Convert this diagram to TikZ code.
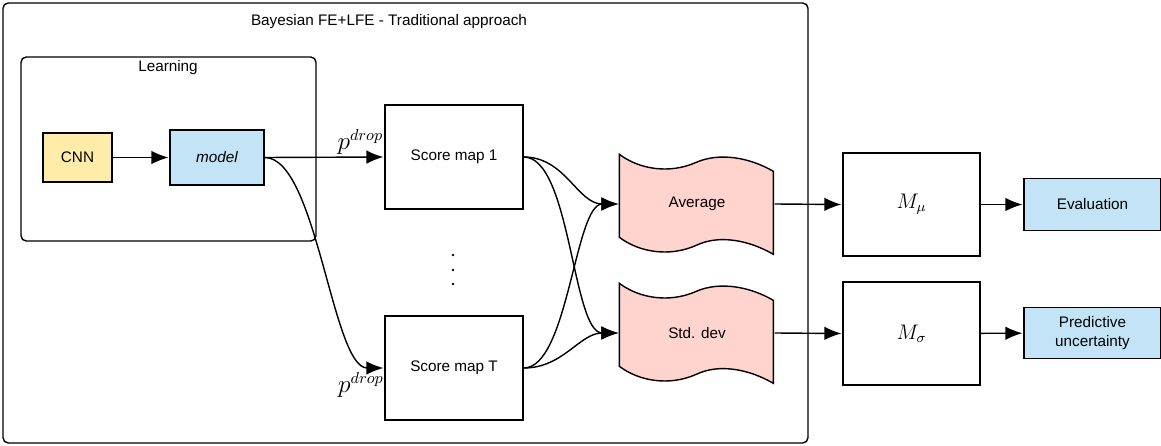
\documentclass[tikz,border=0pt]{standalone}
\usepackage{fontspec}
\setmainfont{Liberation Sans}
\usepackage{amsmath}
\usetikzlibrary{arrows.meta, positioning, backgrounds}
\definecolor{myyellow}{HTML}{FFECA8}
\definecolor{myblue}{HTML}{C2E4F6}
\definecolor{mypink}{HTML}{FFD4CE}
\tikzset{
  >=latex,  % frecce di default
  % Blocchi
  box/.style={thick,rectangle,draw=black,inner sep=1,align=center,font=\fontsize{8.7}{10.5}\selectfont},
  box cnn/.style={box,fill=myyellow,minimum width=1.38cm,minimum height=0.98cm},
  box model/.style={box,fill=myblue,minimum width=1.88cm,minimum height=1.10cm,font=\fontsize{8.7}{10.5}\selectfont\itshape},
  box score/.style={box,minimum width=2.76cm,minimum height=2.08cm},
  box wave/.style={box,draw=none,minimum width=3.08cm,minimum height=2.04cm},
  box map/.style={box,minimum width=2.74cm,minimum height=2.06cm,font=\fontsize{11.5}{13}\selectfont},
  box out/.style={box,fill=myblue,minimum width=2.74cm,minimum height=1.03cm},
  group/.style={thick,draw=black,rounded corners=3pt},
  tape/.style={thick,draw=black,fill=mypink},
  title/.style={font=\fontsize{8.7}{10.5}\selectfont},
  % Connessioni
  connect arrow/.style={-{Latex[length=0.34cm,width=0.27cm]},thick,shorten >=0.5},
  drop/.style={font=\fontsize{13.5}{15}\selectfont,inner sep=1}
}
\begin{document}
\begin{tikzpicture}[x=0.02cm,y=-0.02cm]
  \useasboundingbox (0,0) rectangle (1161,446);
  % Contenitori
  \draw[group] (3,3) rectangle (808,443);
  \node[title] (ttl) at (389,22) {Bayesian FE+LFE - Traditional approach};
  \draw[group] (21,57) rectangle (316,241);
  \node[title] (lrn) at (168,68) {Learning};

  \node[box cnn] (cnn) at (77.5,157.5) {CNN};
  \node[box model] (model) at (217,157.5) {model};
  \node[box score] (sm1) at (454,157) {Score map 1};
  \node[box score] (smT) at (454,368) {Score map T};
  \foreach \y in {255,270,284}
    \fill (453,\y) circle (1.3);
  \node[box wave] (avg) at (697,204) {Average};
  \node[box wave] (std) at (697,333) {Std. dev};
  \node[box map] (mmu) at (911.5,204.5) {$M_\mu$};
  \node[box map] (msig) at (911.5,333.5) {$M_\sigma$};
  \node[box out] (eval) at (1092.5,204.5) {Evaluation};
  \node[box out] (pred) at (1092.5,333) {Predictive\\uncertainty};

  % Forme ondulate
  \begin{scope}[on background layer]
    \foreach \n in {avg,std}
      \draw[tape,shift={(\n.north west)}] (0,2) .. controls (20,17) and (50,22) .. (77,10)
        .. controls (100,0) and (130,5) .. (154,19) -- (154,102)
        .. controls (130,88) and (100,82) .. (77,93)
        .. controls (50,105) and (20,100) .. (0,85) -- cycle;
  \end{scope}

  \draw[connect arrow] (cnn) -- (model);
  \draw[connect arrow] (model.east) -- node[drop,above,pos=0.8] (pd1) {$p^{drop}$} (sm1.west);
  \draw[connect arrow] (model.east) to[out=0,in=180,looseness=0.55] (smT.west);
  \node[drop] (pdT) at (361,385) {$p^{drop}$};
  \draw[connect arrow] (sm1.east) to[out=0,in=180] (avg.west);
  \draw[connect arrow] (smT.east) to[out=0,in=180] (std.west);
  \draw[connect arrow] (sm1.east) to[out=0,in=180,looseness=0.6] (std.west);
  \draw[connect arrow] (smT.east) to[out=0,in=180,looseness=0.6] (avg.west);
  \draw[connect arrow] (avg.east) -- (mmu.west);
  \draw[connect arrow] (std.east) -- (msig.west);
  \draw[connect arrow] (mmu) -- (eval);
  \draw[connect arrow] (msig) -- (pred);
\end{tikzpicture}
\end{document}
